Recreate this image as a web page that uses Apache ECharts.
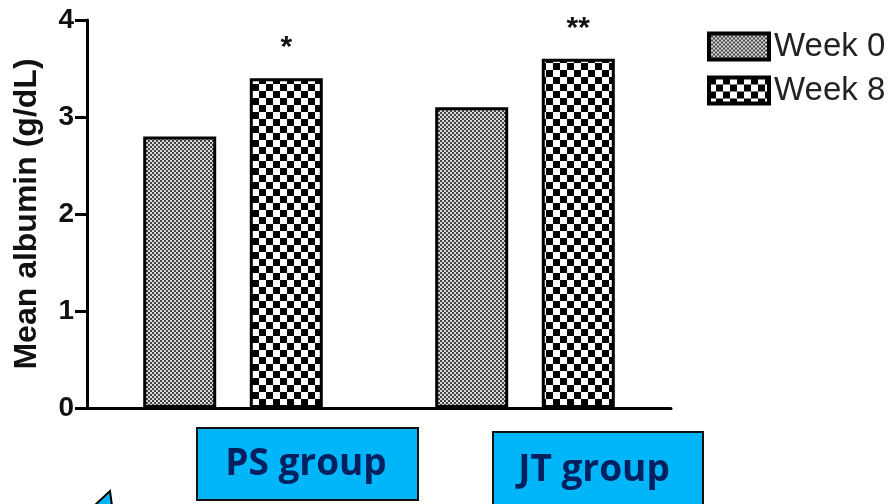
<!DOCTYPE html>
<html>
<head>
<meta charset="utf-8">
<script src="https://cdn.jsdelivr.net/npm/echarts@6/dist/echarts.min.js"></script>
<style>
  html, body { margin: 0; padding: 0; background: #fff; }
  #chart { width: 888px; height: 504px; }
</style>
</head>
<body>
<div id="chart"></div>
<script>
// Mean serum albumin before and after 8 weeks, per treatment group
const categories = ['PS group', 'JT group'];
const seriesNames = ['Week 0', 'Week 8'];
const week0 = [2.8, 3.1];
const week8 = [3.4, 3.6];
const significance = ['*', '**'];
const yMin = 0, yMax = 4, yStep = 1;
const yTitle = 'Mean albumin (g/dL)';

// Hatch fills: fine grey checkerboard and coarse black/white checkerboard
function checker(cell, dark, light) {
  const c = document.createElement('canvas');
  c.width = cell * 2; c.height = cell * 2;
  const g = c.getContext('2d');
  g.fillStyle = light; g.fillRect(0, 0, c.width, c.height);
  g.fillStyle = dark;
  g.fillRect(0, 0, cell, cell);
  g.fillRect(cell, cell, cell, cell);
  return { image: c, repeat: 'repeat' };
}
const fineFill = checker(2, '#444444', '#d8d8d8');
const coarseFill = checker(7, '#000000', '#ffffff');

const AX = '"Liberation Sans", Arial, sans-serif';
const chart = echarts.init(document.getElementById('chart'), null, { renderer: 'canvas' });

chart.setOption({
  animation: false,
  backgroundColor: '#ffffff',
  grid: { left: 87, right: 217, top: 20, bottom: 96, containLabel: false, outerBoundsMode: 'none' },
  legend: {
    orient: 'vertical',
    left: 707,
    top: 30,
    padding: 0,
    itemWidth: 60,
    itemHeight: 26,
    itemGap: 11,
    icon: 'rect',
    data: seriesNames,
    itemStyle: { borderColor: '#000', borderWidth: 4 },
    textStyle: { fontFamily: AX, fontSize: 33, color: '#222' }
  },
  xAxis: {
    type: 'category',
    data: categories,
    axisLine: { lineStyle: { color: '#000', width: 3 } },
    axisTick: { alignWithLabel: true, length: 8, lineStyle: { color: '#000', width: 3 } },
    axisLabel: { show: false },
    splitLine: { show: false }
  },
  yAxis: {
    type: 'value',
    min: yMin, max: yMax, interval: yStep,
    name: yTitle,
    nameLocation: 'middle',
    nameGap: 44,
    nameRotate: 90,
    nameTextStyle: { fontFamily: AX, fontWeight: 'bold', fontSize: 32, color: '#111' },
    axisLine: { show: true, lineStyle: { color: '#000', width: 3 } },
    axisTick: { show: true, length: 12, lineStyle: { color: '#000', width: 3 } },
    axisLabel: { margin: 13, fontFamily: AX, fontWeight: 'bold', fontSize: 28, color: '#111' },
    splitLine: { show: false }
  },
  series: [
    {
      name: seriesNames[0],
      type: 'bar',
      data: week0,
      barWidth: 73,
      barGap: '46%',
      itemStyle: { color: fineFill, borderColor: '#000', borderWidth: 3 }
    },
    {
      name: seriesNames[1],
      type: 'bar',
      data: week8,
      barWidth: 73,
      barGap: '46%',
      itemStyle: { color: coarseFill, borderColor: '#000', borderWidth: 3 },
      label: {
        show: true,
        position: 'top',
        distance: 15,
        formatter: p => significance[p.dataIndex],
        fontFamily: AX,
        fontWeight: 'bold',
        fontSize: 30,
        color: '#111'
      }
    }
  ],
  graphic: [
    {
      type: 'polygon',
      shape: { points: [[94, 506], [110, 491], [112, 506]] },
      style: { fill: '#00B6F8', stroke: '#000', lineWidth: 2 }
    },
    {
      type: 'rect',
      shape: { x: 197, y: 428, width: 221, height: 72 },
      style: { fill: '#00B6F8', stroke: '#111', lineWidth: 2 }
    },
    {
      type: 'text',
      x: 306, y: 464,
      style: {
        text: categories[0],
        font: 'bold 37px "Open Sans", sans-serif',
        fill: '#002060',
        textAlign: 'center',
        textVerticalAlign: 'middle'
      }
    },
    {
      type: 'rect',
      shape: { x: 493, y: 432, width: 210, height: 80 },
      style: { fill: '#00B6F8', stroke: '#111', lineWidth: 2 }
    },
    {
      type: 'text',
      x: 594, y: 470,
      style: {
        text: categories[1],
        font: 'bold 37px "Open Sans", sans-serif',
        fill: '#002060',
        textAlign: 'center',
        textVerticalAlign: 'middle'
      }
    }
  ]
});
</script>
</body>
</html>
